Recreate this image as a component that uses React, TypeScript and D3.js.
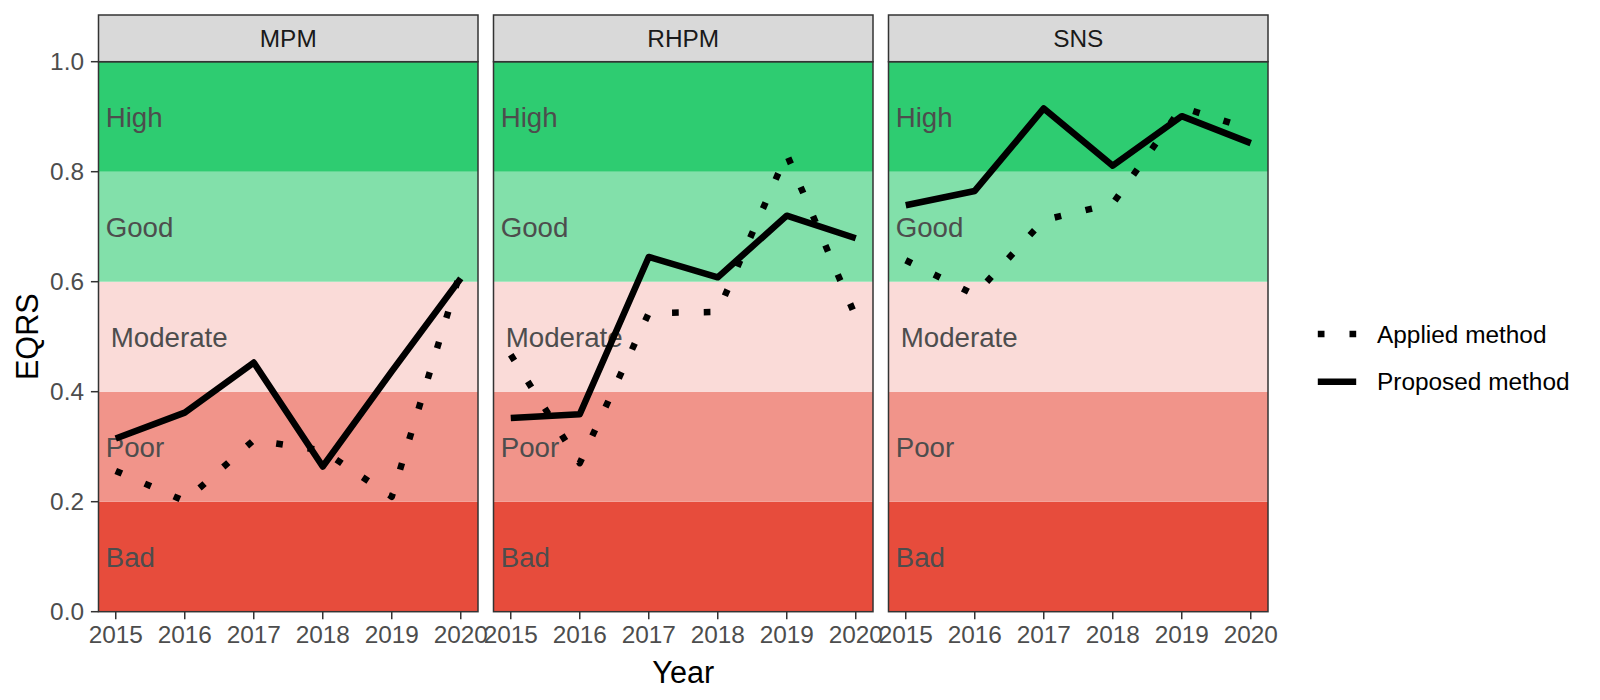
import * as d3 from "d3"

const YEARS = [2015, 2016, 2017, 2018, 2019, 2020]
const PANELS = ["MPM", "RHPM", "SNS"]

const APPLIED_MPM = [0.256, 0.201, 0.312, 0.293, 0.209, 0.62]
const PROPOSED_MPM = [0.315, 0.362, 0.453, 0.264, 0.437, 0.606]
const APPLIED_RHPM = [0.467, 0.27, 0.543, 0.545, 0.832, 0.536]
const PROPOSED_RHPM = [0.352, 0.359, 0.645, 0.608, 0.72, 0.679]
const APPLIED_SNS = [0.639, 0.576, 0.712, 0.742, 0.917, 0.877]
const PROPOSED_SNS = [0.739, 0.765, 0.915, 0.811, 0.901, 0.852]

const BAND_LABELS = ["Bad", "Poor", "Moderate", "Good", "High"]
const BAND_BREAKS = [0, 0.2, 0.4, 0.6, 0.8, 1.0]
const BAND_COLORS = ["#E74C3C", "#F1948A", "#FADBD8", "#82E0AA", "#2ECC71"]
const Y_TICKS = [0, 0.2, 0.4, 0.6, 0.8, 1.0]

const SERIES = [
  { name: "Applied method", dash: "6.7 25", values: [APPLIED_MPM, APPLIED_RHPM, APPLIED_SNS] },
  { name: "Proposed method", dash: null, values: [PROPOSED_MPM, PROPOSED_RHPM, PROPOSED_SNS] },
]

const FONT = "'Liberation Sans', Arial, sans-serif"
const W = 1600
const H = 700
const panelTop = 61.7
const panelBottom = 611.7
const stripTop = 15
const panelW = 379.5
const gap = 15.5
const firstLeft = 98.5

function Panel({ idx }: { idx: number }) {
  const left = firstLeft + idx * (panelW + gap)
  const x = d3.scaleLinear().domain([2014.75, 2020.25]).range([0, panelW])
  const y = d3.scaleLinear().domain([0, 1]).range([panelBottom, panelTop])
  const line = d3
    .line<number>()
    .x((_, i) => x(YEARS[i]))
    .y((d) => y(d))

  return (
    <g transform={`translate(${left},0)`}>
      {BAND_LABELS.map((lab, i) => (
        <rect
          key={lab}
          x={0}
          width={panelW}
          y={y(BAND_BREAKS[i + 1])}
          height={y(BAND_BREAKS[i]) - y(BAND_BREAKS[i + 1])}
          fill={BAND_COLORS[i]}
        />
      ))}
      {BAND_LABELS.map((lab, i) => (
        <text
          key={lab}
          x={lab === "Moderate" ? 12.2 : 7.2}
          y={y((BAND_BREAKS[i] + BAND_BREAKS[i + 1]) / 2)}
          dy="0.36em"
          fontSize={27.7}
          fill="#4D4D4D"
          fontFamily={FONT}
        >
          {lab}
        </text>
      ))}
      {SERIES.map((s) => (
        <path
          key={s.name}
          d={line(s.values[idx]) ?? ""}
          fill="none"
          stroke="#000"
          strokeWidth={6.5}
          strokeDasharray={s.dash ?? undefined}
          strokeLinecap="butt"
          strokeLinejoin="round"
        />
      ))}
      <rect
        x={0}
        y={panelTop}
        width={panelW}
        height={panelBottom - panelTop}
        fill="none"
        stroke="#333333"
        strokeWidth={1.5}
      />
      <rect
        x={0}
        y={stripTop}
        width={panelW}
        height={panelTop - stripTop}
        fill="#D9D9D9"
        stroke="#333333"
        strokeWidth={1.5}
      />
      <text
        x={panelW / 2}
        y={(stripTop + panelTop) / 2}
        dy="0.36em"
        textAnchor="middle"
        fontSize={24.4}
        fill="#1A1A1A"
        fontFamily={FONT}
      >
        {PANELS[idx]}
      </text>
      {YEARS.map((yr) => (
        <g key={yr} transform={`translate(${x(yr)},${panelBottom})`}>
          <line y1={0} y2={7.6} stroke="#333333" strokeWidth={1.5} />
          <text
            y={31}
            textAnchor="middle"
            fontSize={24.4}
            fill="#4D4D4D"
            fontFamily={FONT}
          >
            {yr}
          </text>
        </g>
      ))}
    </g>
  )
}

export default function App() {
  const y = d3.scaleLinear().domain([0, 1]).range([panelBottom, panelTop])
  const plotRight = firstLeft + 3 * panelW + 2 * gap
  const keyX = 1313
  const keyW = 48
  const legendY = [334, 381.7]

  return (
    <svg
      width={W}
      height={H}
      style={{ position: "absolute", left: 0, top: 0, background: "#fff" }}
    >
      <rect width={W} height={H} fill="#fff" />
      {PANELS.map((p, i) => (
        <Panel key={p} idx={i} />
      ))}
      {Y_TICKS.map((t) => (
        <g key={t} transform={`translate(${firstLeft},${y(t)})`}>
          <line x1={-7.6} x2={0} stroke="#333333" strokeWidth={1.5} />
          <text
            x={-14.5}
            dy="0.36em"
            textAnchor="end"
            fontSize={24.4}
            fill="#4D4D4D"
            fontFamily={FONT}
          >
            {d3.format(".1f")(t)}
          </text>
        </g>
      ))}
      <text
        transform={`translate(38,${(panelTop + panelBottom) / 2}) rotate(-90)`}
        textAnchor="middle"
        fontSize={30.6}
        fill="#000"
        fontFamily={FONT}
      >
        EQRS
      </text>
      <text
        x={(firstLeft + plotRight) / 2}
        y={683}
        textAnchor="middle"
        fontSize={30.6}
        fill="#000"
        fontFamily={FONT}
      >
        Year
      </text>
      {SERIES.map((s, i) => (
        <g key={s.name} transform={`translate(${keyX},${legendY[i]})`}>
          <line
            x1={keyW * 0.1}
            x2={keyW * 0.9}
            stroke="#000"
            strokeWidth={6.5}
            strokeDasharray={s.dash ?? undefined}
            strokeLinecap="butt"
          />
          <text
            x={keyW + 16}
            dy="0.36em"
            fontSize={24.4}
            fill="#000"
            fontFamily={FONT}
          >
            {s.name}
          </text>
        </g>
      ))}
    </svg>
  )
}
